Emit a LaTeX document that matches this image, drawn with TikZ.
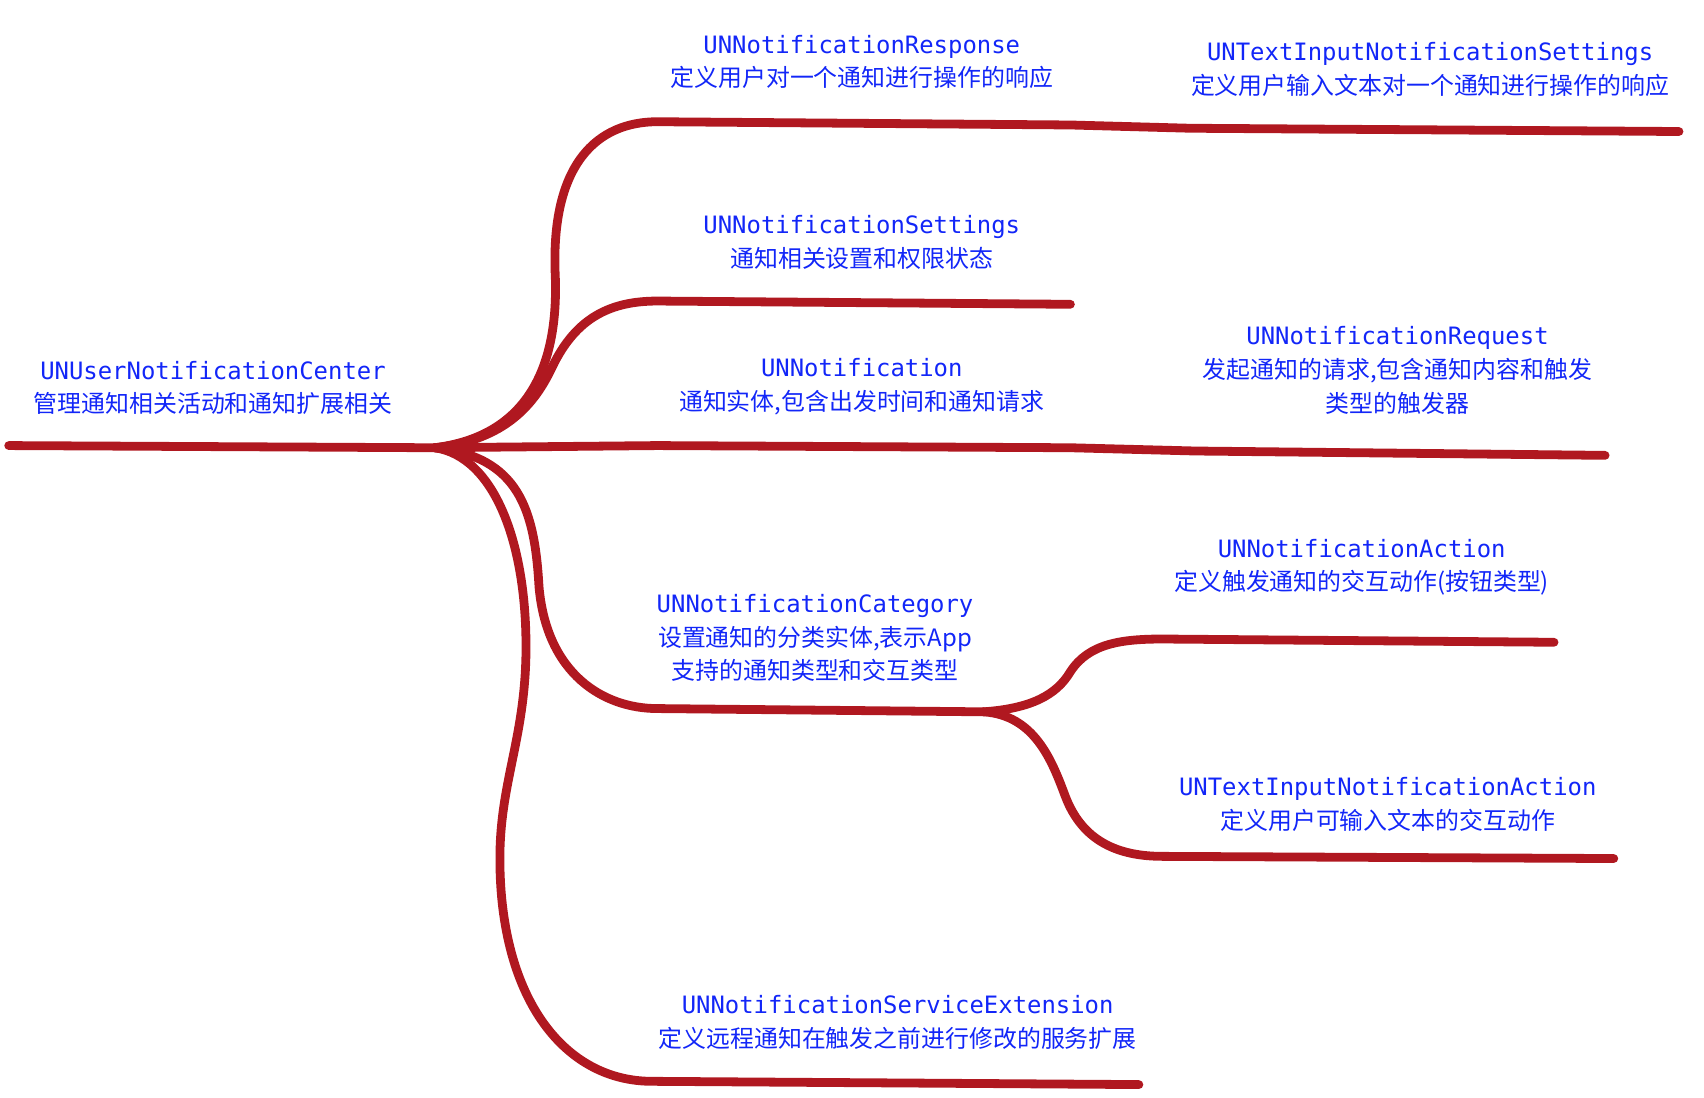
\documentclass[tikz,border=0pt]{standalone}
\usepackage{fontspec}
\usepackage{tikz}
\usepackage{xcolor}
\setmonofont{DejaVu Sans Mono}
\newfontfamily\cjk{Noto Sans CJK SC}
\definecolor{branchred}{RGB}{176,24,32}
\definecolor{nameblue}{RGB}{18,38,248}

\begin{document}
\begin{tikzpicture}[
  x=0.010867cm, y=-0.010867cm,
  branch/.style={draw=branchred, line width=2.5pt, line cap=round, line join=round},
  lab/.style={text=nameblue, align=center, inner sep=0pt, font=\fontsize{6.8}{9.6}\selectfont\cjk}
]
  \useasboundingbox (0,0) rectangle (1568,1010);

  % Racine
  \coordinate (start) at (8,410);
  \coordinate (hub) at (400,412);
  \node[lab] (center) at (196,357) {{\ttfamily UNUserNotificationCenter}\\管理通知相关活动和通知扩展相关};
  \draw[branch] (start) -- (hub);

  % Response / TextInputNotificationSettings
  \coordinate (resp-a) at (605,112);
  \coordinate (resp-b) at (985,115);
  \coordinate (resp-c) at (1095,118);
  \coordinate (resp-d) at (1545,121);
  \node[lab] (resp) at (793,57) {{\ttfamily UNNotificationResponse}\\定义用户对一个通知进行操作的响应};
  \node[lab] (tiset) at (1316,64) {{\ttfamily UNTextInputNotificationSettings}\\定义用户输入文本对一个通知进行操作的响应};
  \draw[branch] (hub) .. controls (480,402) and (514,345) .. (511,255)
    .. controls (506,150) and (550,112) .. (resp-a) -- (resp-b) -- (resp-c) -- (resp-d);

  % Settings
  \coordinate (set-a) at (605,277);
  \coordinate (set-b) at (985,280);
  \node[lab] (settings) at (793,223) {{\ttfamily UNNotificationSettings}\\通知相关设置和权限状态};
  \draw[branch] (hub) .. controls (465,405) and (492,372) .. (508,338)
    .. controls (530,292) and (562,277) .. (set-a) -- (set-b);

  % Notification / Request
  \coordinate (not-a) at (605,410);
  \coordinate (not-b) at (985,412);
  \coordinate (not-c) at (1100,415);
  \coordinate (not-d) at (1477,419);
  \node[lab] (notif) at (793,356) {{\ttfamily UNNotification}\\通知实体,包含出发时间和通知请求};
  \node[lab] (request) at (1286,341) {{\ttfamily UNNotificationRequest}\\发起通知的请求,包含通知内容和触发\\类型的触发器};
  \draw[branch] (hub) -- (not-a) -- (not-b) -- (not-c) -- (not-d);

  % Category / Actions
  \coordinate (cat-a) at (605,652);
  \coordinate (cat-hub) at (905,655);
  \coordinate (act-a) at (1070,588);
  \coordinate (act-b) at (1430,591);
  \coordinate (tia-a) at (1070,788);
  \coordinate (tia-b) at (1485,790);
  \node[lab] (category) at (750,587) {{\ttfamily UNNotificationCategory}\\设置通知的分类实体,表示App\\支持的通知类型和交互类型};
  \node[lab] (action) at (1253,522) {{\ttfamily UNNotificationAction}\\定义触发通知的交互动作(按钮类型)};
  \node[lab] (tiaction) at (1277,740) {{\ttfamily UNTextInputNotificationAction}\\定义用户可输入文本的交互动作};
  \draw[branch] (hub) .. controls (478,420) and (492,470) .. (496,540)
    .. controls (503,620) and (555,652) .. (cat-a) -- (cat-hub);
  \draw[branch] (cat-hub) .. controls (948,652) and (972,640) .. (985,618)
    .. controls (1002,592) and (1032,588) .. (act-a) -- (act-b);
  \draw[branch] (cat-hub) .. controls (952,658) and (968,700) .. (980,732)
    .. controls (996,775) and (1030,788) .. (tia-a) -- (tia-b);

  % ServiceExtension
  \coordinate (svc-a) at (600,995);
  \coordinate (svc-b) at (1048,998);
  \node[lab] (service) at (826,941) {{\ttfamily UNNotificationServiceExtension}\\定义远程通知在触发之前进行修改的服务扩展};
  \draw[branch] (hub) .. controls (455,420) and (485,500) .. (484,600)
    .. controls (483,680) and (460,720) .. (460,790)
    .. controls (460,920) and (520,995) .. (svc-a) -- (svc-b);
\end{tikzpicture}
\end{document}
